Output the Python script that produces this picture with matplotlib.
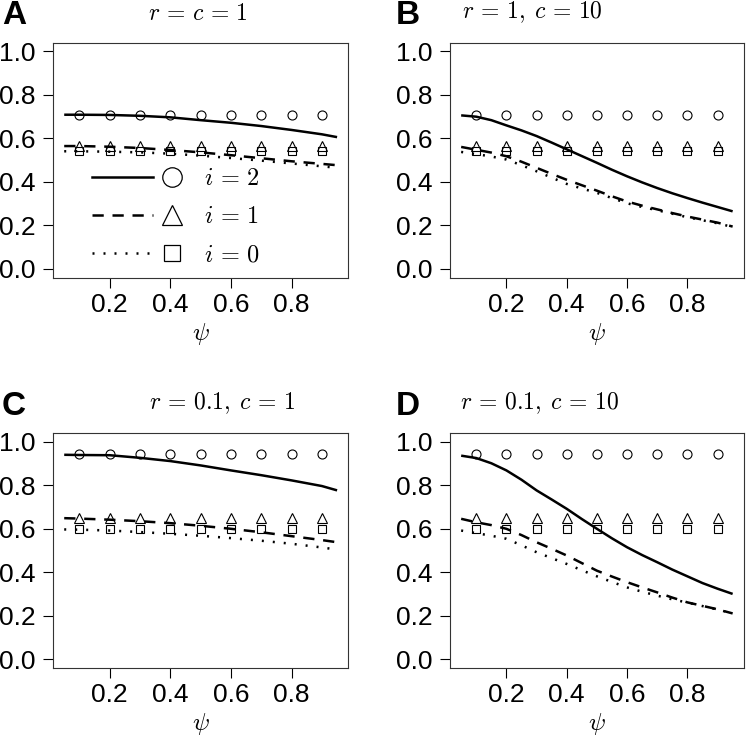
import matplotlib
matplotlib.use("Agg")
import matplotlib.pyplot as plt
from matplotlib.lines import Line2D
from matplotlib.legend_handler import HandlerBase

plt.rcParams['mathtext.fontset'] = 'cm'
plt.rcParams['font.family'] = ['Liberation Sans', 'DejaVu Sans']

# ---- data ----
psi_pts = [0.1, 0.2, 0.3, 0.4, 0.5, 0.6, 0.7, 0.8, 0.9]
psi_coarse = [0.05, 0.1, 0.2, 0.3, 0.4, 0.5, 0.6, 0.7, 0.8, 0.9, 0.95]
psi_fine = [0.05, 0.1, 0.15, 0.2, 0.25, 0.3, 0.35, 0.4, 0.45, 0.5,
            0.55, 0.6, 0.65, 0.7, 0.75, 0.8, 0.85, 0.9, 0.95]

titles = [r'$r\,=\,c\,=\,1$', r'$r\,=\,1,\; c\,=\,10$', r'$r\,=\,0.1,\; c\,=\,1$', r'$r\,=\,0.1,\; c\,=\,10$']
panel_labels = ['A', 'B', 'C', 'D']

# simulated points (constant across psi)
circ_A = [0.709] * 9
tri_A = [0.563] * 9
sq_A = [0.543] * 9
circ_B = [0.709] * 9
tri_B = [0.563] * 9
sq_B = [0.543] * 9
circ_C = [0.943] * 9
tri_C = [0.651] * 9
sq_C = [0.597] * 9
circ_D = [0.943] * 9
tri_D = [0.651] * 9
sq_D = [0.597] * 9

# analytical curves
solid_A = [0.709, 0.709, 0.708, 0.704, 0.697, 0.684, 0.672, 0.657, 0.639, 0.619, 0.606]
dash_A = [0.565, 0.565, 0.562, 0.556, 0.547, 0.536, 0.523, 0.509, 0.495, 0.483, 0.477]
dot_A = [0.541, 0.541, 0.539, 0.536, 0.530, 0.521, 0.510, 0.498, 0.485, 0.472, 0.465]

solid_B = [0.706, 0.700, 0.684, 0.660, 0.637, 0.611, 0.581, 0.550, 0.519, 0.488,
           0.456, 0.426, 0.398, 0.372, 0.348, 0.326, 0.305, 0.285, 0.265]
dash_B = [0.561, 0.548, 0.535, 0.518, 0.493, 0.465, 0.437, 0.410, 0.385, 0.360,
          0.334, 0.310, 0.291, 0.274, 0.257, 0.241, 0.227, 0.213, 0.195]
dot_B = [0.538, 0.528, 0.517, 0.503, 0.477, 0.449, 0.420, 0.391, 0.370, 0.350,
         0.326, 0.302, 0.285, 0.270, 0.254, 0.238, 0.224, 0.210, 0.193]

solid_C = [0.941, 0.940, 0.939, 0.927, 0.912, 0.892, 0.869, 0.847, 0.823, 0.797, 0.777]
dash_C = [0.649, 0.647, 0.642, 0.635, 0.626, 0.614, 0.600, 0.584, 0.566, 0.548, 0.538]
dot_C = [0.597, 0.596, 0.592, 0.585, 0.577, 0.568, 0.557, 0.545, 0.531, 0.514, 0.504]

solid_D = [0.937, 0.926, 0.902, 0.869, 0.826, 0.777, 0.735, 0.692, 0.645, 0.600,
           0.556, 0.515, 0.479, 0.446, 0.412, 0.381, 0.350, 0.324, 0.300]
dash_D = [0.646, 0.630, 0.617, 0.600, 0.571, 0.538, 0.508, 0.477, 0.442, 0.407,
          0.380, 0.354, 0.330, 0.307, 0.283, 0.261, 0.245, 0.229, 0.210]
dot_D = [0.592, 0.580, 0.568, 0.554, 0.524, 0.492, 0.465, 0.438, 0.409, 0.381,
         0.355, 0.330, 0.310, 0.292, 0.275, 0.260, 0.244, 0.228, 0.210]

xs = [psi_coarse, psi_fine, psi_coarse, psi_fine]
points = [(circ_A, tri_A, sq_A), (circ_B, tri_B, sq_B), (circ_C, tri_C, sq_C), (circ_D, tri_D, sq_D)]
curves = [(solid_A, dash_A, dot_A), (solid_B, dash_B, dot_B), (solid_C, dash_C, dot_C), (solid_D, dash_D, dot_D)]

legend_labels = [r'$i\,=\,2$', r'$i\,=\,1$', r'$i\,=\,0$']

# ---- styles ----
LW = 1.8
DASH = (0, (4.5, 3.5))
DOT = (0, (0.8, 3.6))
W, H = 747, 743
fig = plt.figure(figsize=(W / 100, H / 100), dpi=100)

# axes boxes in pixels: (left, top, right, bottom)
boxes = [(53.3, 42.7, 348, 277.7), (450.3, 42.7, 743.5, 277.7),
         (53.3, 433.3, 348, 667.7), (450.3, 433.3, 743.5, 667.7)]
title_x = [0.49, 0.28, 0.573, 0.305]
title_y = [1.123, 1.13, 1.13, 1.13]
label_pos = [(14.5, 15), (408, 15), (13.5, 406.5), (408, 406.5)]


class LineMarkerHandler(HandlerBase):
    def create_artists(self, legend, orig_handle, xdescent, ydescent, width, height, fontsize, trans):
        ln, mk = orig_handle
        y = height / 2 - ydescent
        l = Line2D([-xdescent, -xdescent + width * 0.69], [y, y])
        l.update_from(ln)
        l.set_color('black')
        l.set_linewidth(LW)
        m = Line2D([-xdescent + width * 0.90], [y], marker=mk.get_marker(), ms=mk.get_markersize(),
                   mfc='none', mec='black', mew=0.9, linestyle='none')
        l.set_transform(trans)
        m.set_transform(trans)
        return [l, m]


for k in range(4):
    l, t, r, b = boxes[k]
    ax = fig.add_axes([l / W, 1 - b / H, (r - l) / W, (b - t) / H])
    s, d, o = curves[k]
    x = xs[k]
    ax.plot(x, s, color='black', lw=LW, solid_capstyle='butt')
    ax.plot(x, d, color='black', lw=LW, linestyle=DASH)
    ax.plot(x, o, color='black', lw=LW, linestyle=DOT)
    c, tr, sq = points[k]
    ax.plot(psi_pts, c, 'o', ms=6.5, mfc='none', mec='black', mew=0.8, linestyle='none')
    ax.plot(psi_pts, tr, '^', ms=7, mfc='none', mec='black', mew=0.8, linestyle='none')
    ax.plot(psi_pts, sq, 's', ms=5.5, mfc='none', mec='black', mew=0.8, linestyle='none')

    ax.set_xlim(0.014, 0.986)
    ax.set_ylim(-0.04, 1.04)
    ax.set_xticks([0.2, 0.4, 0.6, 0.8])
    ax.set_xticklabels(['0.2', '0.4', '0.6', '0.8'])
    ax.set_yticks([0.0, 0.2, 0.4, 0.6, 0.8, 1.0])
    ax.set_yticklabels(['0.0', '0.2', '0.4', '0.6', '0.8', '1.0'])
    ax.tick_params(axis='both', labelsize=19, length=7, width=0.8, colors='black')
    ax.tick_params(axis='y', pad=6)
    ax.tick_params(axis='x', pad=4)
    for sp in ax.spines.values():
        sp.set_linewidth(0.8)
        sp.set_color('#333333')
    ax.set_xlabel(r'$\psi$', fontsize=18, labelpad=3)
    ax.text(title_x[k], title_y[k], titles[k], transform=ax.transAxes, ha='center', va='center', fontsize=17)
    fig.text(label_pos[k][0] / W, 1 - label_pos[k][1] / H, panel_labels[k], fontsize=24,
             fontweight='bold', ha='center', va='center')

    if k == 0:
        handles = [(Line2D([], [], linestyle='-'), Line2D([], [], marker='o', ms=14)),
                   (Line2D([], [], linestyle=DASH), Line2D([], [], marker='^', ms=14)),
                   (Line2D([], [], linestyle=DOT), Line2D([], [], marker='s', ms=12))]
        leg = ax.legend(handles, legend_labels, handler_map={tuple: LineMarkerHandler()},
                        loc='upper left', bbox_to_anchor=((92 - l) / (r - l), 1 - (168 - t) / (b - t)),
                        borderaxespad=0, borderpad=0, frameon=False, fontsize=17.5,
                        handlelength=3.65, handletextpad=0.95, labelspacing=0.66)

fig.savefig('out.png', dpi=100)
